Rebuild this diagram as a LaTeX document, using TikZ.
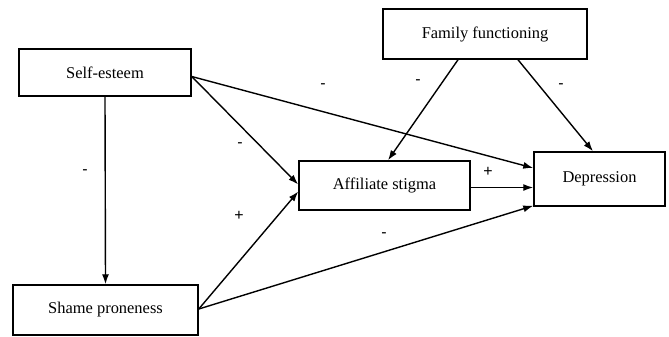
\documentclass[tikz,border=0pt]{standalone}
\usepackage{fontspec}
\setmainfont{Liberation Serif}
\newfontfamily\signfont{Liberation Sans}
\usetikzlibrary{arrows.meta}

\begin{document}
\begin{tikzpicture}[x=1bp,y=-1bp,
  box/.style={draw, line width=1.5bp, rectangle, inner sep=0pt,
    font=\fontsize{16.5}{19}\selectfont},
  link/.style={line width=1.4bp, -{Latex[length=10bp,width=7bp]}},
  sign/.style={inner sep=0pt, font=\signfont\fontsize{16}{18}\selectfont}]

\useasboundingbox (0, 0) rectangle (669, 336);

% boxes
\begin{scope}
\node[box, minimum width=172bp, minimum height=47bp] (selfEsteem) at (105, 72.5) {Self-esteem};
\node[box, minimum width=204bp, minimum height=50bp] (famFunc) at (485, 34) {Family functioning};
\node[box, minimum width=185bp, minimum height=50bp] (shame) at (105.5, 310) {Shame proneness};
\node[box, minimum width=171bp, minimum height=49bp] (affStigma) at (384.5, 185.5) {Affiliate stigma};
\node[box, minimum width=131bp, minimum height=54bp] (depression) at (599.5, 179) {Depression};
\end{scope}

% links
\begin{scope}
\draw[link] (selfEsteem.south) -- (shame.north);
\draw[link] ([yshift=-4bp]selfEsteem.east) -- ([yshift=1bp]affStigma.west);
\draw[link] ([yshift=-4bp]selfEsteem.east) -- ([yshift=11bp]depression.west);
\draw[link] ([yshift=1bp]shame.east) -- ([yshift=-6bp]affStigma.west);
\draw[link] ([yshift=1bp]shame.east) -- ([yshift=1bp]depression.south west);
\draw[link] ([yshift=-2bp]affStigma.east) -- ([yshift=-2bp]affStigma.east -| depression.west);
\draw[link] ([xshift=-27bp]famFunc.south) -- ([xshift=3.5bp]affStigma.north);
\draw[link] ([xshift=33bp]famFunc.south) -- ([xshift=-6.5bp]depression.north);
\end{scope}

% signs
\begin{scope}
\node[sign] (sgnSeSh) at (85, 172) {-};
\node[sign] (sgnSeAf) at (240, 145) {-};
\node[sign] (sgnSeDe) at (323, 86) {-};
\node[sign] (sgnShAf) at (239, 216) {+};
\node[sign] (sgnShDe) at (384, 235) {-};
\node[sign] (sgnAfDe) at (488, 172) {+};
\node[sign] (sgnFfAf) at (418, 82) {-};
\node[sign] (sgnFfDe) at (561, 86) {-};
\end{scope}

\end{tikzpicture}
\end{document}
